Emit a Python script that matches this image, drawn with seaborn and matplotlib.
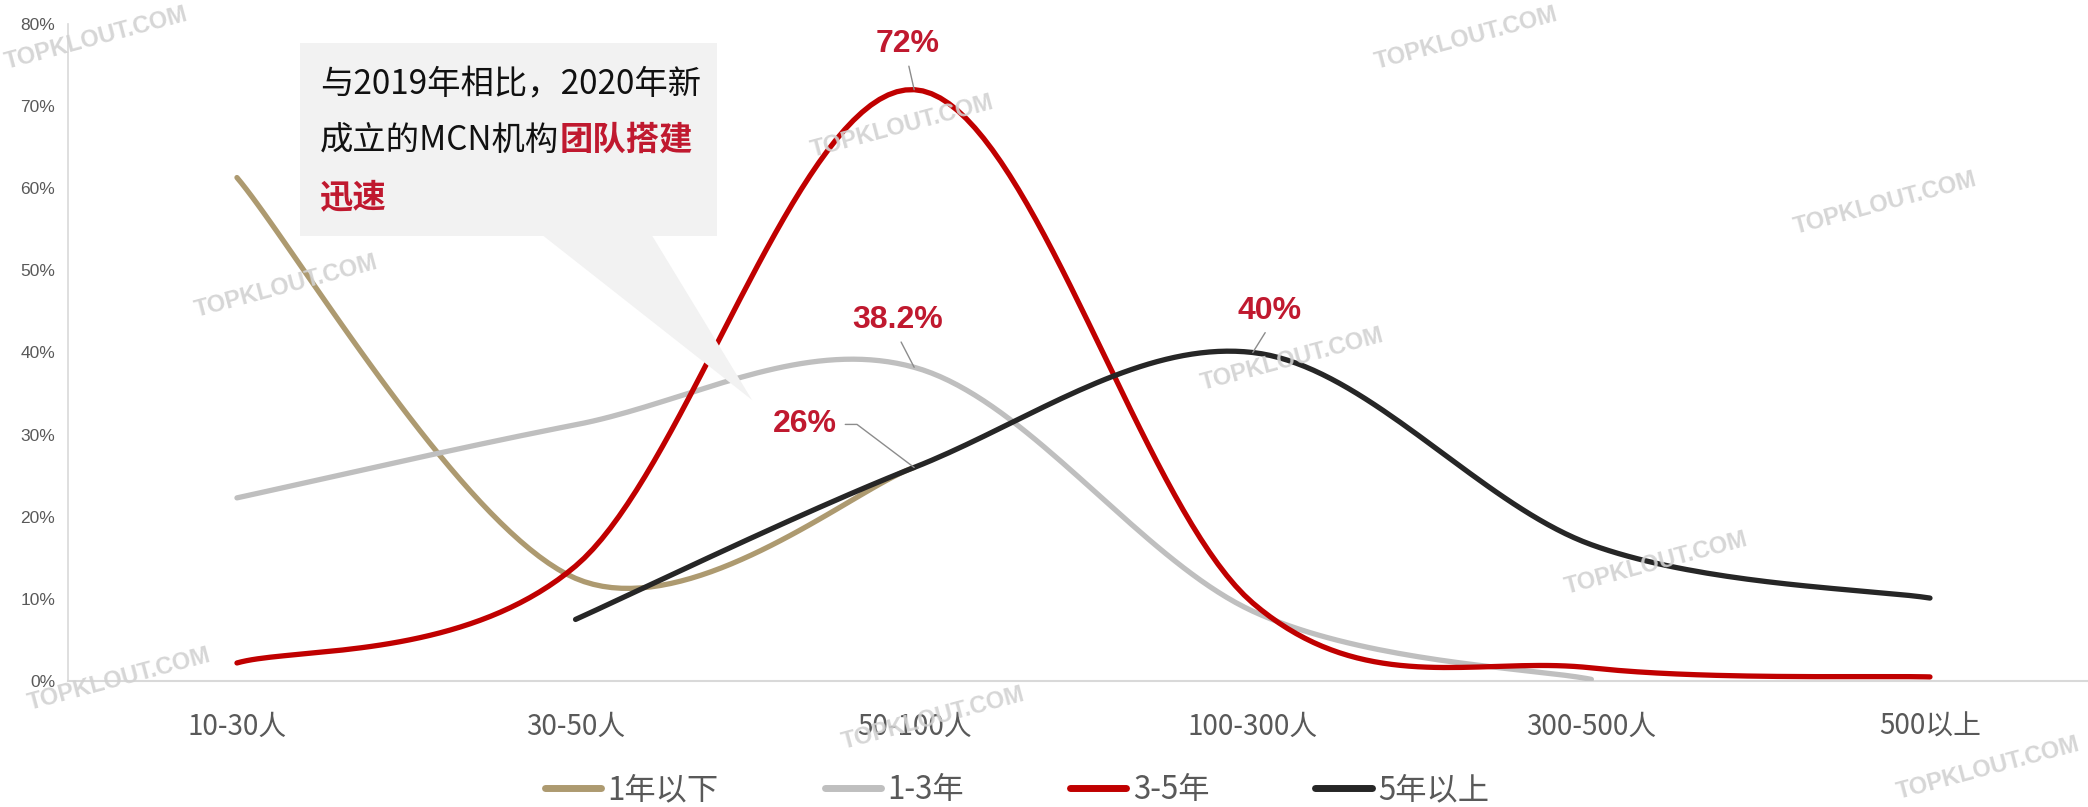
import numpy as np
import pandas as pd
import matplotlib
matplotlib.use("Agg")
import matplotlib.pyplot as plt
from matplotlib.patches import Polygon, Rectangle
from matplotlib.lines import Line2D
import seaborn as sns

# data (percent)
categories = ["10-30人", "30-50人", "50-100人", "100-300人", "300-500人", "500以上"]
series_names = ["1年以下", "1-3年", "3-5年", "5年以上"]
under_1y = [61.3, 12.5, 26.0, None, None, None]
y1_3 = [22.3, 31.2, 38.2, 8.5, 0.2, None]
y3_5 = [2.2, 14.0, 72.0, 9.5, 1.6, 0.5]
over_5y = [None, 7.5, 26.0, 40.0, 16.6, 10.1]
colors = ["#AD9A70", "#BFBFBF", "#C00000", "#262626"]
label_color = "#C0192F"


def smooth(vals, steps=40):
    # excel-like smoothed line (catmull-rom bezier between known points)
    idx = [i for i, v in enumerate(vals) if v is not None]
    xs = np.array(idx, dtype=float)
    ys = np.array([vals[i] for i in idx], dtype=float)
    n = len(xs)
    out_x, out_y = [], []
    t = np.linspace(0, 1, steps)
    for i in range(n - 1):
        p0 = i - 1 if i > 0 else i
        p3 = i + 2 if i + 2 < n else i + 1
        cx1 = xs[i] + (xs[i + 1] - xs[p0]) / 6
        cy1 = ys[i] + (ys[i + 1] - ys[p0]) / 6
        cx2 = xs[i + 1] - (xs[p3] - xs[i]) / 6
        cy2 = ys[i + 1] - (ys[p3] - ys[i]) / 6
        bx = ((1 - t) ** 3) * xs[i] + 3 * ((1 - t) ** 2) * t * cx1 + 3 * (1 - t) * t ** 2 * cx2 + t ** 3 * xs[i + 1]
        by = ((1 - t) ** 3) * ys[i] + 3 * ((1 - t) ** 2) * t * cy1 + 3 * (1 - t) * t ** 2 * cy2 + t ** 3 * ys[i + 1]
        out_x.extend(bx)
        out_y.extend(by)
    return np.array(out_x), np.array(out_y)


sns.set_theme(style="white")
plt.rcParams['font.family'] = ['Noto Sans CJK SC', 'DejaVu Sans']

fig = plt.figure(figsize=(20.88, 8.07), dpi=100)
ax = fig.add_axes([0.0324, 0.1561, 0.973, 0.8142])

# callout box behind everything
fig.patches.append(Rectangle((0.1437, 0.7076), 0.1997, 0.2391, transform=fig.transFigure,
                             facecolor="#F2F2F2", edgecolor="none", zorder=0))
fig.patches.append(Polygon([(0.2601, 0.7080), (0.3123, 0.7080), (0.3602, 0.5043)],
                           closed=True, transform=fig.transFigure,
                           facecolor="#F2F2F2", edgecolor="none", zorder=0))
ax.set_facecolor("none")

# watermarks
wm_pos = [(0.137, 0.645), (0.432, 0.843), (0.619, 0.555), (0.903, 0.748),
          (0.793, 0.302), (0.057, 0.158), (0.447, 0.110), (0.952, 0.048),
          (0.702, 0.952), (0.046, 0.952)]
for (wx, wy) in wm_pos:
    fig.text(wx, wy, "TOPKLOUT.COM", fontsize=17, fontweight="bold",
             family=["Liberation Sans", "DejaVu Sans"], color="#D2D2D2",
             rotation=15, ha="center", va="center", alpha=0.9, zorder=1)

all_series = [under_1y, y1_3, y3_5, over_5y]
frames = []
for name, vals in zip(series_names, all_series):
    sx, sy = smooth(vals)
    frames.append(pd.DataFrame({"x": sx, "y": sy, "series": name}))
df = pd.concat(frames, ignore_index=True)

for name, col in zip(series_names, colors):
    sub = df[df["series"] == name]
    sns.lineplot(data=sub, x="x", y="y", color=col, lw=3.8, sort=False,
                 estimator=None, ax=ax, solid_capstyle="round", zorder=3)

ax.set_xlim(-0.5, 5.5)
ax.set_ylim(0, 80)
ax.set_xticks(range(len(categories)))
ax.set_xticklabels(categories, fontsize=20, color="#595959")
ax.set_yticks(range(0, 81, 10))
ax.set_yticklabels([f"{v}%" for v in range(0, 81, 10)], fontsize=12.5, color="#595959",
                   family=["Liberation Sans", "DejaVu Sans"])
ax.tick_params(axis="x", length=0, pad=22)
ax.tick_params(axis="y", length=0, pad=9)
ax.set_xlabel("")
ax.set_ylabel("")
for s in ["top", "right"]:
    ax.spines[s].set_visible(False)
ax.spines["left"].set_color("#D9D9D9")
ax.spines["bottom"].set_color("#D9D9D9")
ax.spines["left"].set_linewidth(1.2)
ax.spines["bottom"].set_linewidth(1.5)
ax.grid(False)

# data labels with leader lines
lab_font = dict(fontsize=23, fontweight="bold", color=label_color,
                family=["Liberation Sans", "DejaVu Sans"])
lead = dict(arrowstyle="-", color="#8C8C8C", lw=1.0, shrinkA=3, shrinkB=0, relpos=(0.5, 0.0))
ax.annotate("72%", xy=(2, y3_5[2]), xytext=(-5, 33), textcoords="offset points",
            ha="center", va="center", arrowprops=lead, zorder=5, **lab_font)
ax.annotate("38.2%", xy=(2, y1_3[2]), xytext=(-12, 34), textcoords="offset points",
            ha="center", va="center", arrowprops=lead, zorder=5, **lab_font)
ax.annotate("40%", xy=(3, over_5y[3]), xytext=(12, 30), textcoords="offset points",
            ha="center", va="center", arrowprops=lead, zorder=5, **lab_font)
lead26 = dict(arrowstyle="-", color="#8C8C8C", lw=1.0, shrinkA=4, shrinkB=0,
              relpos=(1.0, 0.5), connectionstyle="angle,angleA=0,angleB=-37,rad=0")
ax.annotate("26%", xy=(2, under_1y[2]), xytext=(-79, 31), textcoords="offset points",
            ha="center", va="center", arrowprops=lead26, zorder=5, **lab_font)

# callout text
box_font = ["Noto Sans CJK SC", "DejaVu Sans"]
fig.text(0.1533, 0.8947, "与2019年相比，2020年新", fontsize=24, color="#111111",
         family=box_font, ha="left", va="center")
t1 = fig.text(0.1533, 0.8265, "成立的MCN机构", fontsize=24, color="#111111",
              family=box_font, ha="left", va="center")
fig.canvas.draw()
bb = t1.get_window_extent()
fig.text(bb.x1 / fig.bbox.width, 0.8265, "团队搭建", fontsize=24, fontweight="bold",
         color=label_color, family=box_font, ha="left", va="center")
fig.text(0.1533, 0.7546, "迅速", fontsize=24, fontweight="bold", color=label_color,
         family=box_font, ha="left", va="center")

# legend
handles = [Line2D([0], [0], color=c, lw=5, solid_capstyle="round") for c in colors]
fig.legend(handles, series_names, loc="center", bbox_to_anchor=(0.487, 0.021), ncol=4,
           frameon=False, fontsize=22.5, handlelength=1.8, handletextpad=0.2,
           columnspacing=3.4, labelcolor="#595959")

fig.savefig("out.png", dpi=100)
